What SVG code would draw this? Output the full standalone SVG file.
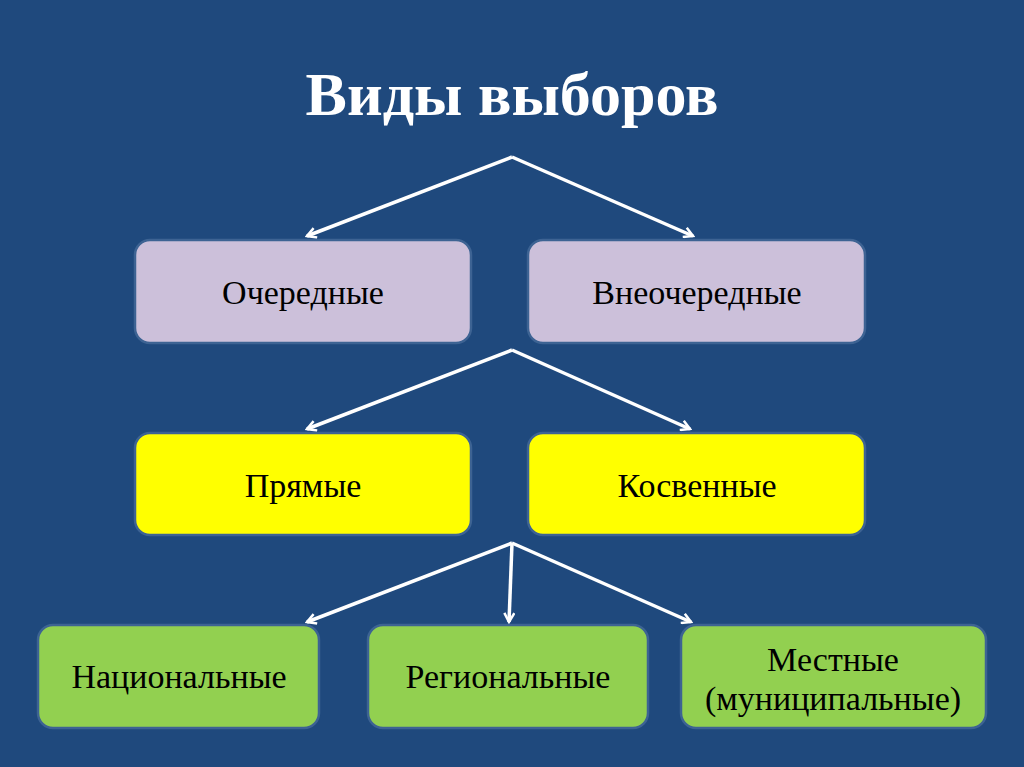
<svg xmlns="http://www.w3.org/2000/svg" width="1024" height="767" viewBox="0 0 1024 767">
<defs>
<style>
.box{stroke:#3d6393;stroke-width:2.5}
.t{font-family:"Liberation Serif","Times New Roman",serif;font-size:34px;fill:#000;text-anchor:middle}
.title{font-family:"Liberation Serif","Times New Roman",serif;font-size:62px;font-weight:bold;fill:#fff;text-anchor:middle}
.c{stroke:#fff;stroke-width:3.5;fill:none}
</style>
<marker id="ah" viewBox="0 0 12 12" refX="10" refY="6" markerWidth="12" markerHeight="12" markerUnits="userSpaceOnUse" orient="auto">
<path d="M1,1 L10,6 L1,11" fill="none" stroke="#fff" stroke-width="2.5"/>
</marker>
</defs>
<rect width="1024" height="767" fill="#1f497d"/>
<text class="title" x="512" y="115">Виды выборов</text>
<g id="connectors">
<line class="c" x1="512" y1="157" x2="307" y2="236" marker-end="url(#ah)"/>
<line class="c" x1="512" y1="157" x2="693" y2="236" marker-end="url(#ah)"/>
<line class="c" x1="512" y1="350" x2="307" y2="429" marker-end="url(#ah)"/>
<line class="c" x1="512" y1="350" x2="690" y2="429" marker-end="url(#ah)"/>
<line class="c" x1="512" y1="543" x2="307" y2="622" marker-end="url(#ah)"/>
<line class="c" x1="512" y1="543" x2="509" y2="622" marker-end="url(#ah)"/>
<line class="c" x1="512" y1="543" x2="691" y2="622" marker-end="url(#ah)"/>
</g>
<g id="n1"><rect class="box" x="135" y="240" width="336" height="103" rx="15" fill="#ccc0da"/><text class="t" x="303" y="304">Очередные</text></g>
<g id="n2"><rect class="box" x="528" y="240" width="337" height="103" rx="15" fill="#ccc0da"/><text class="t" x="697" y="304">Внеочередные</text></g>
<g id="n3"><rect class="box" x="135" y="433" width="336" height="102" rx="15" fill="#ffff00"/><text class="t" x="303" y="497">Прямые</text></g>
<g id="n4"><rect class="box" x="528" y="433" width="337" height="102" rx="15" fill="#ffff00"/><text class="t" x="697" y="497">Косвенные</text></g>
<g id="n5"><rect class="box" x="38" y="625" width="281" height="103" rx="15" fill="#92d050"/><text class="t" x="179" y="688">Национальные</text></g>
<g id="n6"><rect class="box" x="368" y="625" width="280" height="103" rx="15" fill="#92d050"/><text class="t" x="508" y="688">Региональные</text></g>
<g id="n7"><rect class="box" x="681" y="625" width="305" height="103" rx="15" fill="#92d050"/><text class="t" x="833" y="671">Местные</text><text class="t" x="833" y="710">(муниципальные)</text></g>
</svg>
